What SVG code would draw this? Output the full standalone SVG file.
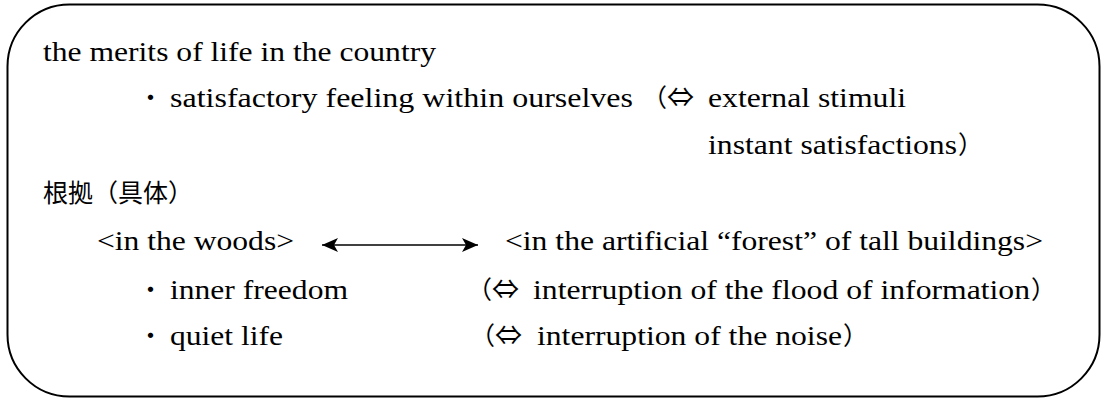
<svg xmlns="http://www.w3.org/2000/svg" width="1102" height="398" viewBox="0 0 1102 398">
<style>
.t{font-family:"Liberation Serif","Noto Sans CJK JP",serif;font-size:27.5px;fill:#000}
.j{font-family:"Noto Sans CJK JP","DejaVu Sans",sans-serif;font-size:25px;fill:#000}
.s{font-family:"Noto Sans CJK JP","DejaVu Sans",sans-serif;font-size:27px;fill:#000}
.box{fill:#fff;stroke:#000;stroke-width:2}
.conn{stroke:#000;stroke-width:1.3;fill:none}
</style>
<defs>
<marker id="ah" viewBox="0 0 16 14" refX="16" refY="7" markerWidth="16" markerHeight="14" markerUnits="userSpaceOnUse" orient="auto-start-reverse">
<path d="M0,0 L16,7 L0,14 L4,7 Z" fill="#000"/>
</marker>
</defs>
<rect width="1102" height="398" fill="#fff"/>
<g id="box">
<rect class="box" x="7.5" y="4.5" width="1092" height="392" rx="62" ry="62"/>
</g>
<g id="merits">
<text class="t" x="43" y="61" textLength="393" lengthAdjust="spacingAndGlyphs">the merits of life in the country</text>
<text class="j" x="138" y="107">・</text>
<text class="t" x="170" y="107" textLength="463" lengthAdjust="spacingAndGlyphs">satisfactory feeling within ourselves</text>
<text class="j" x="642" y="107">（</text>
<text class="s" x="667" y="107">⇔</text>
<text class="t" x="708" y="107" textLength="198" lengthAdjust="spacingAndGlyphs">external stimuli</text>
<text class="t" x="708" y="154" textLength="249" lengthAdjust="spacingAndGlyphs">instant satisfactions</text>
<text class="j" x="958" y="154">）</text>
</g>
<g id="konkyo">
<text class="j" x="43" y="202">根拠（具体）</text>
</g>
<g id="woods">
<text class="t" x="97" y="250" textLength="197" lengthAdjust="spacingAndGlyphs">&lt;in the woods&gt;</text>
<text class="j" x="138" y="299">・</text>
<text class="t" x="170" y="299" textLength="178" lengthAdjust="spacingAndGlyphs">inner freedom</text>
<text class="j" x="138" y="345">・</text>
<text class="t" x="170" y="345" textLength="113" lengthAdjust="spacingAndGlyphs">quiet life</text>
</g>
<g id="city">
<text class="t" x="505" y="250" textLength="538" lengthAdjust="spacingAndGlyphs">&lt;in the artificial “forest” of tall buildings&gt;</text>
<text class="j" x="467" y="299">（</text>
<text class="s" x="492" y="299">⇔</text>
<text class="t" x="533" y="299" textLength="497" lengthAdjust="spacingAndGlyphs">interruption of the flood of information</text>
<text class="j" x="1031" y="299">）</text>
<text class="j" x="470" y="345">（</text>
<text class="s" x="495" y="345">⇔</text>
<text class="t" x="537" y="345" textLength="305" lengthAdjust="spacingAndGlyphs">interruption of the noise</text>
<text class="j" x="843" y="345">）</text>
</g>
<g id="connectors">
<line class="conn" x1="322" y1="245" x2="478" y2="245" marker-start="url(#ah)" marker-end="url(#ah)"/>
</g>
</svg>
